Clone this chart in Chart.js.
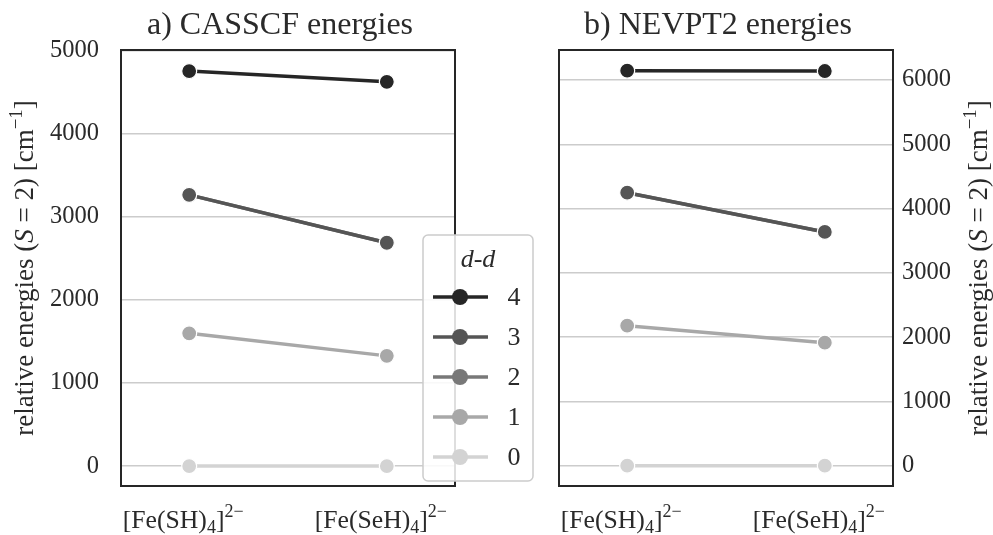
<!DOCTYPE html>
<html>
<head>
<meta charset="utf-8">
<script src="https://cdn.jsdelivr.net/npm/chart.js@4"></script>
<style>
  html, body { margin: 0; padding: 0; background: #fff; overflow: hidden; }
  canvas { position: absolute; top: 0; }
  #left { left: 0; }
  #right { left: 545px; }
</style>
</head>
<body>
<canvas id="left" width="545" height="535"></canvas>
<canvas id="right" width="448" height="535"></canvas>
<script>
// Complexes on the x axis (TeX-like markup: _ subscript, ^{} superscript, $ italic)
const categories = ['[Fe(SH)_4]^{2−}', '[Fe(SeH)_4]^{2−}'];

// d-d excitation levels and their grey shades
const levels = ['4', '3', '2', '1', '0'];
const levelColors = ['#262626', '#555555', '#787878', '#a8a8a8', '#d3d3d3'];

// CASSCF relative energies (cm^-1), one array per level
const casscf4 = [4756, 4627];
const casscf3 = [3266, 2689];
const casscf2 = [3266, 2689];
const casscf1 = [1599, 1327];
const casscf0 = [0, 0];

// NEVPT2 relative energies (cm^-1), one array per level
const nevpt4 = [6145, 6140];
const nevpt3 = [4247, 3636];
const nevpt2 = [4247, 3636];
const nevpt1 = [2178, 1913];
const nevpt0 = [0, 0];

// Y tick values for each panel
const yTicksCasscf = [0, 1000, 2000, 3000, 4000, 5000];
const yTicksNevpt = [0, 1000, 2000, 3000, 4000, 5000, 6000];

const panelTitles = ['a) CASSCF energies', 'b) NEVPT2 energies'];
const yTitle = 'relative energies ($S$ = 2) [cm^{−1}]';
const legendTitle = 'd-d';

const SERIF = '"Liberation Serif", "DejaVu Serif", serif';
const TEXT = '#2a2a2a';

function parseRich(s) {
  const out = [];
  const re = /_\{([^}]*)\}|_(.)|\^\{([^}]*)\}|\^(.)|\$([^$]*)\$|([^_^$]+)/g;
  let m;
  while ((m = re.exec(s))) {
    if (m[1] != null || m[2] != null) out.push({ t: m[1] ?? m[2], k: 'sub' });
    else if (m[3] != null || m[4] != null) out.push({ t: m[3] ?? m[4], k: 'sup' });
    else if (m[5] != null) out.push({ t: m[5], k: 'it' });
    else out.push({ t: m[6], k: 'n' });
  }
  return out;
}
function segFont(k, size) {
  const s = (k === 'sub' || k === 'sup') ? size * 0.7 : size;
  return (k === 'it' ? 'italic ' : '') + s.toFixed(1) + 'px ' + SERIF;
}
function drawRich(ctx, s, x, y, size, align) {
  const segs = parseRich(s);
  let total = 0;
  segs.forEach(g => { ctx.font = segFont(g.k, size); g.w = ctx.measureText(g.t).width; total += g.w; });
  let cx = align === 'center' ? x - total / 2 : (align === 'right' ? x - total : x);
  ctx.textAlign = 'left';
  ctx.textBaseline = 'alphabetic';
  segs.forEach(g => {
    ctx.font = segFont(g.k, size);
    const dy = g.k === 'sub' ? size * 0.2 : (g.k === 'sup' ? -size * 0.42 : 0);
    ctx.fillText(g.t, cx, y + dy);
    cx += g.w;
  });
}

function makeDatasets(rows) {
  return levels.map((lv, i) => ({
    label: lv,
    data: rows[i].map((v, j) => ({ x: j, y: v })),
    borderColor: levelColors[i],
    backgroundColor: levelColors[i],
    pointBackgroundColor: levelColors[i],
    pointBorderColor: '#ffffff',
    pointBorderWidth: 1.2,
    pointRadius: 7.5,
    pointHoverRadius: 7.5,
    borderWidth: 3.5,
    tension: 0
  }));
}

// Frame, titles, category labels and the legend
const decor = {
  id: 'decor',
  afterDatasetsDraw(chart, args, opts) {
    const ctx = chart.ctx, a = chart.chartArea;
    ctx.save();
    ctx.strokeStyle = '#262626';
    ctx.lineWidth = 2;
    ctx.strokeRect(a.left, a.top, a.right - a.left, a.bottom - a.top);
    ctx.restore();
  },
  afterDraw(chart, args, opts) {
    const ctx = chart.ctx, a = chart.chartArea;
    ctx.save();
    ctx.fillStyle = TEXT;
    // panel title
    drawRich(ctx, opts.title, (a.left + a.right) / 2 - 8, 34, 32, 'center');
    // category labels
    const xs = chart.scales.x;
    categories.forEach((c, i) => {
      drawRich(ctx, c, xs.getPixelForValue(i) - 6, 528, 25.7, 'center');
    });
    // rotated y title
    ctx.save();
    ctx.translate(opts.yTitleX, (a.top + a.bottom) / 2);
    ctx.rotate(-Math.PI / 2);
    drawRich(ctx, yTitle, 0, 0, 27, 'center');
    ctx.restore();
    // legend
    if (opts.legend) {
      const bx = a.right - 32, by = a.top + 185, bw = 110, bh = 246;
      ctx.beginPath();
      ctx.roundRect(bx, by, bw, bh, 5);
      ctx.fillStyle = 'rgba(255,255,255,0.85)';
      ctx.fill();
      ctx.strokeStyle = '#cccccc';
      ctx.lineWidth = 1.5;
      ctx.stroke();
      ctx.fillStyle = TEXT;
      ctx.font = 'italic 26px ' + SERIF;
      ctx.textAlign = 'center';
      ctx.textBaseline = 'middle';
      ctx.fillText(legendTitle, bx + 55, by + 25);
      chart.data.datasets.forEach((ds, i) => {
        const cy = by + 62 + i * 40;
        ctx.strokeStyle = ds.borderColor;
        ctx.lineWidth = 3.5;
        ctx.beginPath();
        ctx.moveTo(bx + 10, cy);
        ctx.lineTo(bx + 65, cy);
        ctx.stroke();
        ctx.beginPath();
        ctx.arc(bx + 37, cy, 8, 0, Math.PI * 2);
        ctx.fillStyle = ds.borderColor;
        ctx.fill();
        ctx.fillStyle = TEXT;
        ctx.font = '26px ' + SERIF;
        ctx.fillText(ds.label, bx + 91, cy + 1);
      });
    }
    ctx.restore();
  }
};

function makeChart(id, rows, yMin, yMax, yTicks, side, pad, yWidth, title, yTitleX, legend) {
  return new Chart(document.getElementById(id), {
    type: 'line',
    data: { datasets: makeDatasets(rows) },
    plugins: [decor],
    options: {
      responsive: false,
      animation: false,
      events: [],
      layout: { padding: pad },
      plugins: {
        legend: { display: false },
        tooltip: { enabled: false },
        title: { display: false },
        decor: { title: title, yTitleX: yTitleX, legend: legend }
      },
      scales: {
        x: {
          type: 'linear',
          min: -0.345,
          max: 1.345,
          grid: { display: false },
          border: { display: false },
          ticks: { display: false },
          afterFit(s) { s.height = 49; }
        },
        y: {
          type: 'linear',
          position: side,
          min: yMin,
          max: yMax,
          afterBuildTicks(s) { s.ticks = yTicks.map(v => ({ value: v })); },
          grid: { color: '#cccccc', lineWidth: 1.5, drawTicks: false },
          border: { display: false },
          ticks: {
            color: TEXT,
            font: { family: SERIF, size: 24.5 },
            padding: side === 'left' ? 22 : 9,
            callback: v => String(v)
          },
          afterFit(s) { s.width = yWidth; }
        }
      }
    }
  });
}

makeChart('left', [casscf4, casscf3, casscf2, casscf1, casscf0], -240, 5010, yTicksCasscf,
  'left', { top: 50, bottom: 0, left: 0, right: 90 }, 121, panelTitles[0], 33, true);
makeChart('right', [nevpt4, nevpt3, nevpt2, nevpt1, nevpt0], -316, 6467, yTicksNevpt,
  'right', { top: 50, bottom: 0, left: 14, right: 0 }, 100, panelTitles[1], 442, false);
</script>
</body>
</html>
